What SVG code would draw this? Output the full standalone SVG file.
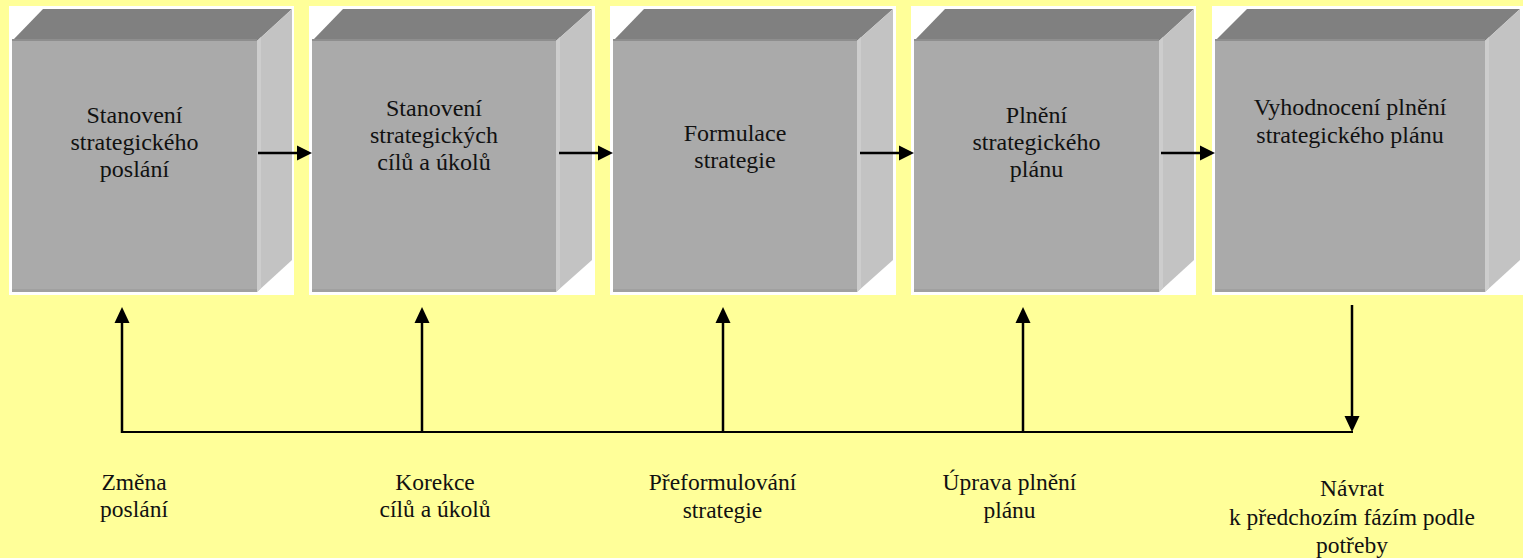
<svg xmlns="http://www.w3.org/2000/svg" width="1523" height="558" viewBox="0 0 1523 558">
<style>
.bg{fill:#FFFF99}
.frame{fill:#FFFFFF}
.top{fill:#808080}
.topedge{fill:#8E8E8E}
.front{fill:#AAAAAA}
.frontedge{fill:#A0A0A0}
.side{fill:#C3C3C3}
.sideedge{fill:#CDCDCD}
.t{font-family:"Times New Roman",Times,"Liberation Serif","DejaVu Serif","Noto Serif",serif;font-size:24px;fill:#111111;text-anchor:middle}
.lbl{font-family:"Times New Roman",Times,"Liberation Serif","DejaVu Serif","Noto Serif",serif;font-size:23.5px;fill:#111111;text-anchor:middle}
.ln{stroke:#000;stroke-width:2.5;fill:none}
.hl{stroke:#000;stroke-width:2;fill:none}
.ah{fill:#000}
</style>
<rect class="bg" x="0" y="0" width="1523" height="558"/>

<g id="node1">
<rect class="frame" x="9" y="6" width="285" height="289"/>
<polygon class="top" points="12,41 43,9 292,9 257,41"/>
<rect class="topedge" x="12" y="39" width="245" height="2"/>
<rect class="front" x="12" y="41" width="245" height="251"/>
<rect class="frontedge" x="12" y="289" width="245" height="3"/>
<polygon class="side" points="257,41 292,9 292,260 257,292"/>
<polygon class="sideedge" points="257,41 261,37 261,288 257,292"/>
<text class="t" x="134.5" y="123">Stanovení</text>
<text class="t" x="134.5" y="150">strategického</text>
<text class="t" x="134.5" y="177">poslání</text>
</g>

<g id="node2">
<rect class="frame" x="309" y="6" width="286" height="289"/>
<polygon class="top" points="312,41 343,9 592,9 556,41"/>
<rect class="topedge" x="312" y="39" width="244" height="2"/>
<rect class="front" x="312" y="41" width="244" height="251"/>
<rect class="frontedge" x="312" y="289" width="244" height="3"/>
<polygon class="side" points="556,41 592,9 592,260 556,292"/>
<polygon class="sideedge" points="556,41 560,37 560,288 556,292"/>
<text class="t" x="434" y="116">Stanovení</text>
<text class="t" x="434" y="143">strategických</text>
<text class="t" x="434" y="170">cílů a úkolů</text>
</g>

<g id="node3">
<rect class="frame" x="610" y="6" width="286" height="289"/>
<polygon class="top" points="613,41 644,9 893,9 857,41"/>
<rect class="topedge" x="613" y="39" width="244" height="2"/>
<rect class="front" x="613" y="41" width="244" height="251"/>
<rect class="frontedge" x="613" y="289" width="244" height="3"/>
<polygon class="side" points="857,41 893,9 893,260 857,292"/>
<polygon class="sideedge" points="857,41 861,37 861,288 857,292"/>
<text class="t" x="735" y="141">Formulace</text>
<text class="t" x="735" y="168">strategie</text>
</g>

<g id="node4">
<rect class="frame" x="911" y="6" width="285" height="289"/>
<polygon class="top" points="914,41 945,9 1194,9 1159,41"/>
<rect class="topedge" x="914" y="39" width="245" height="2"/>
<rect class="front" x="914" y="41" width="245" height="251"/>
<rect class="frontedge" x="914" y="289" width="245" height="3"/>
<polygon class="side" points="1159,41 1194,9 1194,260 1159,292"/>
<polygon class="sideedge" points="1159,41 1163,37 1163,288 1159,292"/>
<text class="t" x="1036.5" y="123">Plnění</text>
<text class="t" x="1036.5" y="150">strategického</text>
<text class="t" x="1036.5" y="177">plánu</text>
</g>

<g id="node5">
<rect class="frame" x="1212" y="6" width="311" height="289"/>
<polygon class="top" points="1215,41 1247,9 1520,9 1485,41"/>
<rect class="topedge" x="1215" y="39" width="270" height="2"/>
<rect class="front" x="1215" y="41" width="270" height="251"/>
<rect class="frontedge" x="1215" y="289" width="270" height="3"/>
<polygon class="side" points="1485,41 1520,9 1520,260 1485,292"/>
<polygon class="sideedge" points="1485,41 1489,37 1489,288 1485,292"/>
<text class="t" x="1350" y="115">Vyhodnocení plnění</text>
<text class="t" x="1350" y="143">strategického plánu</text>
</g>

<g id="connectors">
<line class="ln" x1="258" y1="153" x2="298" y2="153"/>
<polygon class="ah" points="297,145.5 312,153 297,160.5"/>
<line class="ln" x1="559" y1="153" x2="599" y2="153"/>
<polygon class="ah" points="598,145.5 613,153 598,160.5"/>
<line class="ln" x1="860" y1="153" x2="900" y2="153"/>
<polygon class="ah" points="899,145.5 914,153 899,160.5"/>
<line class="ln" x1="1161" y1="153" x2="1201" y2="153"/>
<polygon class="ah" points="1200,145.5 1215,153 1200,160.5"/>

<line class="hl" x1="121" y1="432" x2="1353" y2="432"/>

<line class="ln" x1="122" y1="433" x2="122" y2="321"/>
<polygon class="ah" points="114.5,323 122,307 129.5,323"/>
<line class="ln" x1="422" y1="433" x2="422" y2="321"/>
<polygon class="ah" points="414.5,323 422,307 429.5,323"/>
<line class="ln" x1="723" y1="433" x2="723" y2="321"/>
<polygon class="ah" points="715.5,323 723,307 730.5,323"/>
<line class="ln" x1="1023" y1="433" x2="1023" y2="321"/>
<polygon class="ah" points="1015.5,323 1023,307 1030.5,323"/>

<line class="ln" x1="1352" y1="305" x2="1352" y2="418"/>
<polygon class="ah" points="1344.5,416 1352,432 1359.5,416"/>
</g>

<g id="labels">
<text class="lbl" x="134" y="490">Změna</text>
<text class="lbl" x="134" y="517">poslání</text>
<text class="lbl" x="435" y="490">Korekce</text>
<text class="lbl" x="435" y="517">cílů a úkolů</text>
<text class="lbl" x="722.5" y="490">Přeformulování</text>
<text class="lbl" x="722.5" y="518">strategie</text>
<text class="lbl" x="1009.5" y="490">Úprava plnění</text>
<text class="lbl" x="1009.5" y="518">plánu</text>
<text class="lbl" x="1352" y="496">Návrat</text>
<text class="lbl" x="1352" y="525">k předchozím fázím podle</text>
<text class="lbl" x="1352" y="553">potřeby</text>
</g>
</svg>
